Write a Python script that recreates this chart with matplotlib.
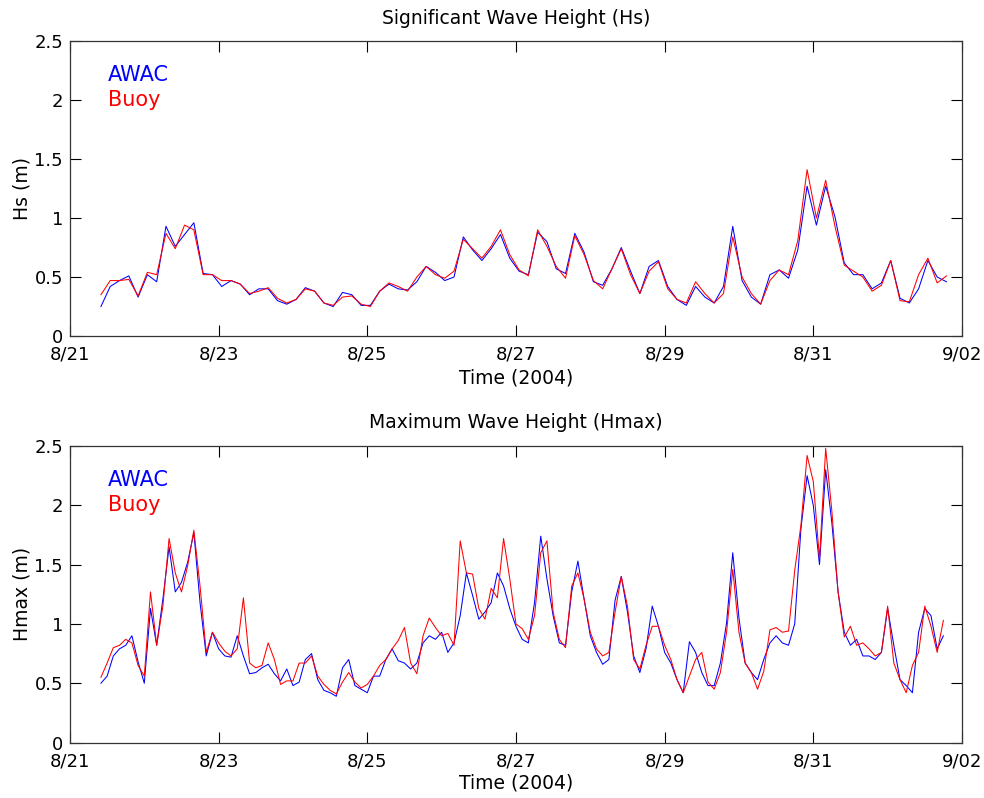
import numpy as np
import matplotlib
matplotlib.use("Agg")
import matplotlib.pyplot as plt
import matplotlib.dates as mdates
from matplotlib.ticker import FuncFormatter, MultipleLocator

# hours since 2004-08-21 00:00
hs_hours = np.arange(10, 284, 3)
hmax_hours = np.arange(10, 283, 2)

hs_awac = [0.25, 0.42, 0.47, 0.51, 0.33, 0.52, 0.46, 0.93, 0.76, 0.86, 0.96, 0.53, 0.52, 0.42, 0.47, 0.44,
           0.35, 0.40, 0.40, 0.30, 0.27, 0.31, 0.41, 0.38, 0.28, 0.25, 0.37, 0.35, 0.26, 0.26, 0.38, 0.44,
           0.40, 0.39, 0.46, 0.59, 0.54, 0.47, 0.50, 0.84, 0.73, 0.64, 0.74, 0.86, 0.66, 0.55, 0.52, 0.88,
           0.80, 0.57, 0.53, 0.87, 0.71, 0.46, 0.43, 0.57, 0.75, 0.55, 0.36, 0.59, 0.64, 0.42,
           0.31, 0.26, 0.42, 0.33, 0.28, 0.42, 0.93, 0.47, 0.33, 0.27, 0.52, 0.56, 0.49, 0.73, 1.27, 0.94,
           1.27, 1.01, 0.62, 0.52, 0.52, 0.40, 0.45, 0.64, 0.32, 0.28, 0.40, 0.64, 0.50, 0.46]
hs_buoy = [0.35, 0.47, 0.47, 0.48, 0.34, 0.54, 0.52, 0.87, 0.74, 0.94, 0.90, 0.52, 0.52, 0.47, 0.47, 0.44,
           0.36, 0.38, 0.41, 0.32, 0.28, 0.31, 0.40, 0.38, 0.28, 0.26, 0.33, 0.34, 0.27, 0.25, 0.38, 0.45,
           0.42, 0.38, 0.50, 0.59, 0.52, 0.49, 0.55, 0.82, 0.74, 0.66, 0.76, 0.90, 0.69, 0.56, 0.51, 0.90,
           0.76, 0.59, 0.49, 0.85, 0.69, 0.47, 0.40, 0.57, 0.74, 0.52, 0.36, 0.55, 0.63, 0.40,
           0.31, 0.28, 0.46, 0.36, 0.28, 0.36, 0.84, 0.50, 0.36, 0.27, 0.47, 0.56, 0.52, 0.81, 1.41, 1.00,
           1.32, 0.93, 0.60, 0.55, 0.50, 0.38, 0.43, 0.64, 0.30, 0.29, 0.52, 0.66, 0.45, 0.51]

hmax_awac = [0.50, 0.56, 0.73, 0.79, 0.82, 0.90, 0.68, 0.50, 1.13, 0.82, 1.21, 1.65, 1.27, 1.35, 1.52, 1.77,
             1.18, 0.73, 0.93, 0.79, 0.73, 0.72, 0.90, 0.73, 0.58, 0.59, 0.63, 0.66, 0.58,
             0.52, 0.62, 0.48, 0.51, 0.70, 0.75, 0.53, 0.44, 0.42, 0.39, 0.63, 0.70, 0.48, 0.45, 0.42,
             0.56, 0.56, 0.70, 0.79, 0.69, 0.67, 0.62, 0.67, 0.84, 0.90, 0.87, 0.93, 0.76,
             0.84, 1.07, 1.43, 1.24, 1.04, 1.10, 1.18, 1.43, 1.32, 1.13, 0.98, 0.87, 0.84, 1.18, 1.74,
             1.38, 1.07, 0.84, 0.82, 1.27, 1.53, 1.21, 0.90, 0.76, 0.66, 0.70, 1.20, 1.40,
             1.10, 0.73, 0.59, 0.79, 1.15, 0.98, 0.76, 0.67, 0.53, 0.42, 0.85, 0.76, 0.59, 0.48, 0.48,
             0.67, 1.01, 1.60, 1.05, 0.67, 0.59, 0.53, 0.70, 0.84, 0.90, 0.84, 0.82,
             1.00, 1.80, 2.25, 2.00, 1.50, 2.30, 1.85, 1.27, 0.93, 0.82, 0.87, 0.73, 0.73, 0.70, 0.76,
             1.13, 0.82, 0.53, 0.48, 0.42, 0.93, 1.13, 1.07, 0.79, 0.90]
hmax_buoy = [0.55, 0.67, 0.80, 0.82, 0.87, 0.84, 0.65, 0.56, 1.27, 0.82, 1.15, 1.72, 1.43, 1.27, 1.49, 1.79,
             1.32, 0.76, 0.93, 0.84, 0.77, 0.73, 0.79, 1.22, 0.67, 0.63, 0.65, 0.84, 0.70,
             0.49, 0.52, 0.52, 0.67, 0.67, 0.73, 0.56, 0.49, 0.44, 0.41, 0.51, 0.59, 0.51, 0.46, 0.49,
             0.56, 0.65, 0.70, 0.79, 0.86, 0.97, 0.67, 0.58, 0.90, 1.05, 0.97, 0.90, 0.92,
             0.82, 1.70, 1.43, 1.42, 1.13, 1.04, 1.30, 1.22, 1.72, 1.38, 1.00, 0.96, 0.87, 1.07, 1.60,
             1.70, 1.10, 0.87, 0.80, 1.32, 1.43, 1.21, 0.93, 0.79, 0.73, 0.76, 1.10, 1.40,
             1.15, 0.70, 0.62, 0.82, 0.98, 0.98, 0.82, 0.70, 0.53, 0.42, 0.56, 0.70, 0.76, 0.51, 0.45,
             0.59, 0.93, 1.46, 0.93, 0.67, 0.59, 0.45, 0.60, 0.95, 0.97, 0.93, 0.94,
             1.45, 1.83, 2.42, 2.20, 1.55, 2.48, 1.95, 1.27, 0.89, 0.98, 0.82, 0.84, 0.79, 0.73, 0.76,
             1.15, 0.67, 0.53, 0.42, 0.65, 0.76, 1.15, 0.98, 0.76, 1.03]

start = np.datetime64("2004-08-21T00")
t_hs = start + hs_hours.astype("timedelta64[h]")
t_hmax = start + hmax_hours.astype("timedelta64[h]")

plt.rcParams["font.family"] = ["DejaVu Sans"]
plt.rcParams["font.size"] = 13

fig = plt.figure(figsize=(9.84, 7.98), dpi=100)
ax1 = fig.add_axes([0.0711, 0.5789, 0.9065, 0.3697])
ax2 = fig.add_axes([0.0711, 0.0695, 0.9065, 0.3716])

# axes, times, awac, buoy, title, ylabel, title offset, xlabel offset (axes fraction)
panels = [
    (ax1, t_hs, hs_awac, hs_buoy, "Significant Wave Height (Hs)", "Hs (m)", 1.075, -0.142),
    (ax2, t_hmax, hmax_awac, hmax_buoy, "Maximum Wave Height (Hmax)", "Hmax (m)", 1.078, -0.138),
]

for ax, t, awac, buoy, title, ylab, ty, xly in panels:
    ax.plot(t, awac, color="blue", lw=0.75)
    ax.plot(t, buoy, color="red", lw=0.75)
    ax.set_xlim(np.datetime64("2004-08-21"), np.datetime64("2004-09-02"))
    ax.set_ylim(0, 2.5)
    ax.xaxis.set_major_locator(mdates.DayLocator(interval=2))
    ax.xaxis.set_major_formatter(FuncFormatter(
        lambda v, pos: "%d/%02d" % (mdates.num2date(v).month, mdates.num2date(v).day)))
    ax.yaxis.set_major_locator(MultipleLocator(0.5))
    ax.yaxis.set_major_formatter(FuncFormatter(lambda v, pos: "%g" % v))
    ax.tick_params(direction="in", length=8, top=True, right=True, labelsize=13)
    ax.tick_params(axis="x", pad=7)
    ax.tick_params(axis="y", pad=5)
    for s in ax.spines.values():
        s.set_color("#333333")
        s.set_linewidth(0.9)
    ax.text(0.5, ty, title, ha="center", va="center", fontsize=13.5, transform=ax.transAxes)
    ax.set_xlabel("Time (2004)", fontsize=13.5)
    ax.xaxis.set_label_coords(0.5, xly)
    ax.xaxis.label.set_va("center")
    ax.set_ylabel(ylab, fontsize=13.5)
    ax.yaxis.set_label_coords(-0.054, 0.5)
    ax.yaxis.label.set_va("center")
    ax.text(0.043, 0.885, "AWAC", color="blue", fontsize=15, transform=ax.transAxes, va="center")
    ax.text(0.043, 0.80, "Buoy", color="red", fontsize=15, transform=ax.transAxes, va="center")

fig.savefig("out.png", dpi=100)
